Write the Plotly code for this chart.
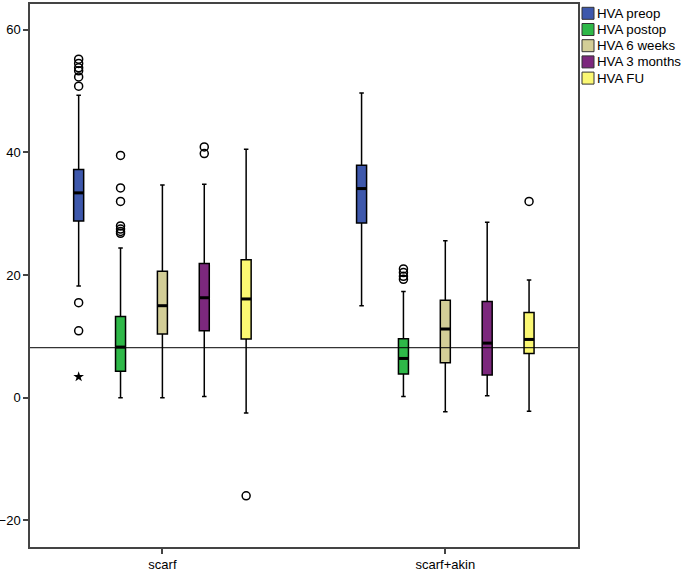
import plotly.graph_objects as go

groups = ["scarf", "scarf+akin"]
series = ["HVA preop", "HVA postop", "HVA 6 weeks", "HVA 3 months", "HVA FU"]
colors = ["#3E58AC", "#2EB848", "#D3CE97", "#7C287D", "#FBF873"]

# per series: [scarf, scarf+akin]
lower_whisker = [[18.2, 15.0], [0.0, 0.2], [0.0, -2.3], [0.2, 0.3], [-2.5, -2.2]]
q1_vals = [[28.8, 28.5], [4.3, 3.85], [10.4, 5.7], [10.9, 3.7], [9.55, 7.2]]
median_vals = [[33.4, 34.1], [8.25, 6.4], [15.0, 11.2], [16.3, 8.9], [16.1, 9.5]]
q3_vals = [[37.2, 37.9], [13.25, 9.6], [20.6, 15.9], [21.9, 15.7], [22.5, 13.9]]
upper_whisker = [[49.3, 49.7], [24.4, 17.3], [34.7, 25.6], [34.8, 28.6], [40.5, 19.2]]

outliers = [
    [[55.2, 54.5, 53.8, 53.3, 52.3, 50.8, 15.5, 10.9], []],
    [[39.5, 34.2, 32.0, 28.0, 27.5, 27.1, 26.8], [21.0, 20.4, 19.8, 19.3]],
    [[], []],
    [[40.9, 39.8], []],
    [[-16.0], [32.0]],
]
extremes = [
    [[3.4], []],
    [[], []],
    [[], []],
    [[], []],
    [[], []],
]
reference_line = 8.15

y_ticks = [-20, 0, 20, 40, 60]

# layout constants
W, H = 685, 572
ML, MR, MT, MB = 30, 107, 4, 25
slot = 0.148
box_w = 0.0354

fig = go.Figure()

for i, name in enumerate(series):
    pos = [g + (i - 2) * slot for g in range(len(groups))]
    fig.add_trace(go.Box(
        x=pos, q1=q1_vals[i], median=median_vals[i], q3=q3_vals[i],
        lowerfence=lower_whisker[i], upperfence=upper_whisker[i],
        name=name, fillcolor=colors[i], width=box_w, whiskerwidth=0.45,
        line=dict(color="black", width=1.5), boxpoints=False,
        showlegend=False, hoverinfo="skip",
    ))
    # thick median line
    for g in range(len(groups)):
        fig.add_trace(go.Scatter(
            x=[pos[g] - box_w / 2, pos[g] + box_w / 2],
            y=[median_vals[i][g], median_vals[i][g]],
            mode="lines", line=dict(color="black", width=3),
            showlegend=False, hoverinfo="skip",
        ))
        if outliers[i][g]:
            fig.add_trace(go.Scatter(
                x=[pos[g]] * len(outliers[i][g]), y=outliers[i][g],
                mode="markers",
                marker=dict(symbol="circle-open", size=8, color="black",
                            line=dict(width=1.5, color="black")),
                showlegend=False, hoverinfo="skip",
            ))
        if extremes[i][g]:
            fig.add_trace(go.Scatter(
                x=[pos[g]] * len(extremes[i][g]), y=extremes[i][g],
                mode="markers",
                marker=dict(symbol="star", size=8, color="black"),
                showlegend=False, hoverinfo="skip",
            ))

fig.add_hline(y=reference_line, line=dict(color="black", width=1))

# manual legend
pw = W - ML - MR
ph = H - MT - MB
def px_x(px):
    return (px - ML) / pw
def px_y(py):
    return (H - MB - py) / ph

for i, name in enumerate(series):
    cy = 13.3 + i * 16.2
    fig.add_shape(type="rect", xref="paper", yref="paper",
                  x0=px_x(582), x1=px_x(594), y0=px_y(cy + 6), y1=px_y(cy - 6),
                  fillcolor=colors[i], line=dict(color="#333333", width=1))
    fig.add_annotation(xref="paper", yref="paper", x=px_x(595), y=px_y(cy),
                       text=name, showarrow=False, xanchor="left", yanchor="middle",
                       font=dict(family="Liberation Sans, Arial", size=13.3, color="black"))

fig.update_layout(
    width=W, height=H,
    margin=dict(l=ML, r=MR, t=MT, b=MB, autoexpand=False),
    paper_bgcolor="white", plot_bgcolor="white",
    font=dict(family="Liberation Sans, Arial", size=13, color="black"),
    showlegend=False,
)
fig.update_xaxes(
    range=[-0.468, 1.469], tickvals=list(range(len(groups))), ticktext=groups,
    showgrid=False, zeroline=False, showline=True, linecolor="#444444", linewidth=1.5,
    mirror=True, ticks="outside", ticklen=5, tickcolor="#444444", tickwidth=1.5,
    automargin=False,
)
fig.update_yaxes(
    range=[-24.35, 64.2], tickvals=y_ticks,
    showgrid=False, zeroline=False, showline=True, linecolor="#444444", linewidth=1.5,
    mirror=True, ticks="outside", ticklen=5, tickcolor="#444444", tickwidth=1.5,
    automargin=False,
)

fig.write_html(
    "out.html",
    config={"displayModeBar": False},
    post_script="document.body.style.margin='0';document.body.style.overflow='hidden';",
)
